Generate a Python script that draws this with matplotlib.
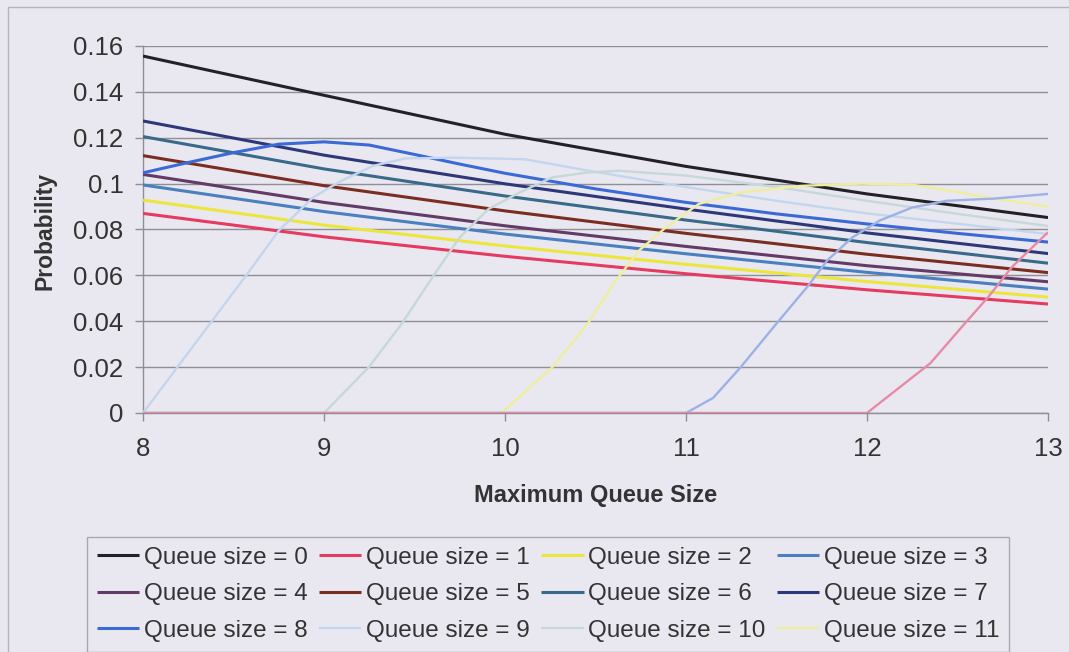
import matplotlib
matplotlib.use("Agg")
import matplotlib.pyplot as plt
from matplotlib.patches import Rectangle
from matplotlib.ticker import FuncFormatter

plt.rcParams['font.family'] = ['Liberation Sans', 'DejaVu Sans']

# Data
x_int = [8, 9, 10, 11, 12, 13]
q0 = [0.1556, 0.1385, 0.1215, 0.1075, 0.0955, 0.0852]
q1 = [0.0870, 0.0768, 0.0683, 0.0607, 0.0537, 0.0475]
q2 = [0.0928, 0.0819, 0.0728, 0.0648, 0.0573, 0.0505]
q3 = [0.0994, 0.0878, 0.0780, 0.0694, 0.0613, 0.0540]
q4 = [0.1040, 0.0918, 0.0816, 0.0726, 0.0642, 0.0572]
q5 = [0.1122, 0.0991, 0.0881, 0.0783, 0.0692, 0.0612]
q6 = [0.1205, 0.1064, 0.0946, 0.0841, 0.0743, 0.0653]
q7 = [0.1273, 0.1124, 0.0999, 0.0889, 0.0785, 0.0695]

q8_x = [8, 8.25, 8.5, 8.75, 9, 9.25, 9.5, 9.75, 10, 10.5, 11, 11.5, 12, 12.5, 13]
q8 = [0.1047, 0.1092, 0.1135, 0.1172, 0.1182, 0.1168, 0.1127, 0.1085, 0.1045,
      0.0977, 0.0918, 0.0868, 0.0824, 0.0783, 0.0745]

q9_x = [8, 8.19, 8.38, 8.57, 8.75, 8.94, 9.09, 9.27, 9.45, 9.72, 10.11, 10.47,
        11, 11.5, 12, 12.5, 13]
q9 = [0, 0.020, 0.040, 0.060, 0.0795, 0.094, 0.101, 0.1077, 0.1110, 0.1113,
      0.1106, 0.1055, 0.0985, 0.0925, 0.0870, 0.0825, 0.0780]

q10_x = [8, 9, 9.25, 9.43, 9.6, 9.75, 9.91, 10.08, 10.26, 10.45, 10.63, 11,
         11.5, 12, 12.5, 13]
q10 = [0, 0, 0.0202, 0.039, 0.0593, 0.0766, 0.089, 0.0961, 0.1027, 0.1048,
       0.1056, 0.1035, 0.0985, 0.0925, 0.0868, 0.0815]

q11_x = [8, 9.98, 10.26, 10.46, 10.6, 10.74, 10.89, 11.07, 11.3, 11.63, 11.97,
         12.25, 12.53, 12.71, 13]
q11 = [0, 0, 0.0198, 0.0393, 0.0564, 0.0708, 0.081, 0.0911, 0.0961, 0.099,
       0.100, 0.0995, 0.096, 0.0933, 0.0900]

q12_x = [8, 11.0, 11.15, 11.3, 11.5, 11.67, 11.78, 11.92, 12.07, 12.25, 12.44,
         12.71, 13]
q12 = [0, 0, 0.0066, 0.0198, 0.039, 0.055, 0.0665, 0.0766, 0.0839, 0.0896,
       0.0925, 0.0935, 0.0955]

q13_x = [8, 12.0, 12.14, 12.35, 12.54, 12.67, 12.8, 13]
q13 = [0, 0, 0.0087, 0.0217, 0.039, 0.0506, 0.0636, 0.0788]

series = [
    (x_int, q0, "#222226", 2.2),
    (x_int, q1, "#e63a60", 2.2),
    (x_int, q2, "#ece63c", 2.2),
    (x_int, q3, "#4a7fc0", 2.2),
    (x_int, q4, "#643a66", 2.2),
    (x_int, q5, "#7a2e22", 2.2),
    (x_int, q6, "#3a6a8a", 2.2),
    (x_int, q7, "#2e3878", 2.2),
    (q8_x, q8, "#3b69d6", 2.2),
    (q9_x, q9, "#c3d6ee", 1.7),
    (q10_x, q10, "#c6d8d8", 1.7),
    (q11_x, q11, "#eeee9e", 1.7),
    (q12_x, q12, "#9cb2e6", 1.7),
    (q13_x, q13, "#e88aa6", 1.7),
]

bg = "#e9e8f1"
fig = plt.figure(figsize=(10.69, 6.52), dpi=100)
fig.patch.set_facecolor(bg)
ax = fig.add_axes([0.1338, 0.3666, 0.8466, 0.5629])
ax.set_facecolor(bg)

handles = []
for i, (xs, ys, c, lw) in enumerate(series):
    h, = ax.plot(xs, ys, color=c, lw=lw, solid_capstyle="butt",
                 label="Queue size = %d" % i, zorder=3 + i * 0.01)
    handles.append(h)

ax.set_xlim(8, 13)
ax.set_ylim(0, 0.16)
ax.set_xticks([8, 9, 10, 11, 12, 13])
ax.set_yticks([0, 0.02, 0.04, 0.06, 0.08, 0.1, 0.12, 0.14, 0.16])
ax.yaxis.set_major_formatter(FuncFormatter(lambda v, p: "%g" % round(v, 2)))
ax.grid(axis="y", color="#8e8e94", lw=1.0)
ax.set_axisbelow(True)
for s in ["top", "right"]:
    ax.spines[s].set_visible(False)
for s in ["left", "bottom"]:
    ax.spines[s].set_color("#8e8e94")
    ax.spines[s].set_linewidth(1.0)
ax.tick_params(axis="both", colors="#8e8e94", labelcolor="#333333",
               labelsize=18.5, length=6, width=1)
ax.tick_params(axis="x", pad=11)
ax.tick_params(axis="y", pad=8)

ax.set_ylabel("Probability", fontsize=16.5, fontweight="bold", color="#333333")
ax.yaxis.set_label_coords(-0.108, 0.495)
ax.yaxis.label.set_va("center")
ax.set_xlabel("Maximum Queue Size", fontsize=17, fontweight="bold", color="#333333")
ax.xaxis.set_label_coords(0.5, -0.226)
ax.xaxis.label.set_va("center")

# Excel shows the legend row by row and only for the first 12 series
order = [0, 4, 8, 1, 5, 9, 2, 6, 10, 3, 7, 11]
leg = fig.legend([handles[k] for k in order],
                 [handles[k].get_label() for k in order],
                 ncol=4, loc="upper left", bbox_to_anchor=(0.0814, 0.1764),
                 fontsize=17.5, frameon=True, fancybox=False,
                 handlelength=1.75, handletextpad=0.2, columnspacing=0.45,
                 labelspacing=0.6, borderpad=0.4, borderaxespad=0)
leg.get_frame().set_edgecolor("#9a9aa0")
leg.get_frame().set_facecolor(bg)
leg.get_frame().set_linewidth(1.0)
for t in leg.get_texts():
    t.set_color("#333333")

# outer chart-area border
fig.patches.append(Rectangle((8 / 1069, -0.05), 1.2, 1.05 - 7 / 652,
                             transform=fig.transFigure, fill=False,
                             edgecolor="#b4b4bc", lw=1.0))

fig.savefig("out.png", dpi=100, facecolor=bg)
